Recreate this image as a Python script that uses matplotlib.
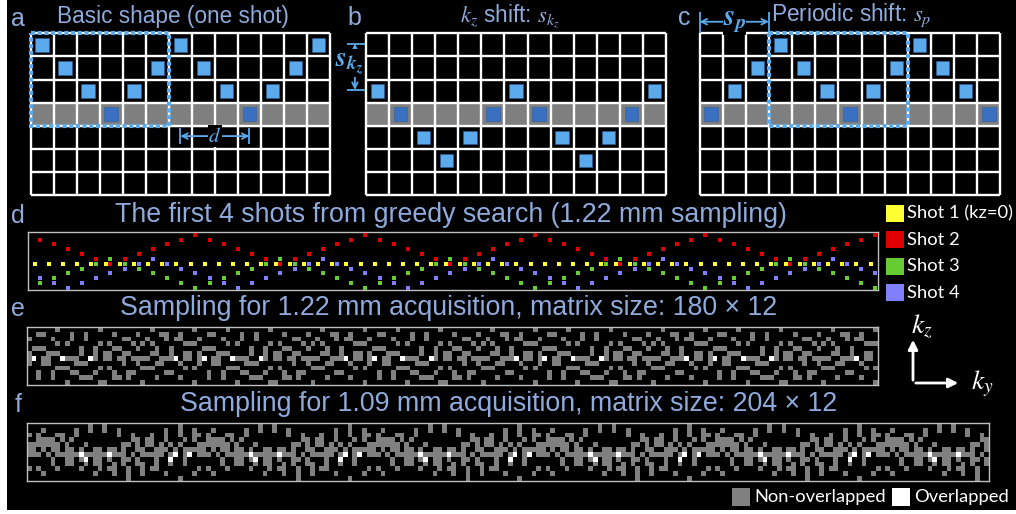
import numpy as np
import matplotlib.pyplot as plt
from matplotlib.patches import Rectangle, FancyArrowPatch
from matplotlib.colors import ListedColormap

plt.rcParams['mathtext.fontset'] = 'stix'

W, H = 1016, 514
title_col = '#8FAADC'
light_blue = '#5BAAEB'
dark_blue = '#3A70C2'
gray = '#7F7F7F'

# kz row of the sample in each ky column (7 x 13 grid)
shape_a = [0, 1, 2, 3, 2, 1, 0, 1, 2, 3, 2, 1, 0]
shape_b = [2, 3, 4, 5, 4, 3, 2, 3, 4, 5, 4, 3, 2]
shape_c = [3, 2, 1, 0, 1, 2, 3, 2, 1, 0, 1, 2, 3]
center_row = 3

# first four shots of the greedy search (1.22 mm, 180 ky lines, every 3rd line)
shot1_rows = [6] * 60
shot2_rows = [1, 2, 3, 4, 5, 6, 5, 4, 3, 2, 1, 0,
              1, 2, 3, 4, 5, 6, 5, 4, 3, 2, 1, 0,
              1, 2, 3, 4, 5, 6, 5, 4, 3, 2, 1, 0,
              1, 2, 3, 4, 5, 6, 5, 4, 3, 2, 1, 0,
              1, 2, 3, 4, 5, 6, 5, 4, 3, 2, 1, 0]
shot3_rows = [10, 9, 8, 7, 6, 5, 6, 7, 8, 9, 10, 11,
              10, 9, 8, 7, 6, 5, 6, 7, 8, 9, 10, 11,
              10, 9, 8, 7, 6, 5, 6, 7, 8, 9, 10, 11,
              10, 9, 8, 7, 6, 5, 6, 7, 8, 9, 10, 11,
              10, 9, 8, 7, 6, 5, 6, 7, 8, 9, 10, 11]
shot4_rows = [9, 10, 11, 10, 9, 8, 7, 6, 5, 6, 7, 8,
              9, 10, 11, 10, 9, 8, 7, 6, 5, 6, 7, 8,
              9, 10, 11, 10, 9, 8, 7, 6, 5, 6, 7, 8,
              9, 10, 11, 10, 9, 8, 7, 6, 5, 6, 7, 8,
              9, 10, 11, 10, 9, 8, 7, 6, 5, 6, 7, 8]
shot_offsets = [1, 2, 2, 2]
shot_names = ['Shot 1 (kz=0)', 'Shot 2', 'Shot 3', 'Shot 4']
shot_colors = ['#FFFF33', '#E00000', '#66CC33', '#8080FF']

# zig-zag of one shot over one period (12 samples), kz row before shifting
zigzag = [1, 2, 3, 4, 5, 6, 5, 4, 3, 2, 1, 0]
kz0_row = 6

# shots of the full masks: (ky offset, kz shift, periodic shift)
shots_122 = [(2, 0, 0), (2, 5, 6), (2, 5, 3), (2, 0, 3),
             (1, 5, 0), (1, 1, 2),
             (0, 0, 6), (0, 5, 0), (0, 5, 9), (0, 0, 9)]
shots_109 = [(2, 0, 1), (2, 1, 1), (2, 2, 1), (2, 4, 1), (2, 5, 7),
             (1, 0, 7), (1, 0, 6),
             (0, 4, 10), (0, 4, 4), (0, 1, 10), (0, 3, 10), (0, 5, 10)]


def fx(x):
    return x / W


def fy(y):
    return 1 - y / H


def add_ax(x0, x1, y0, y1):
    return fig.add_axes([fx(x0), fy(y1), (x1 - x0) / W, (y1 - y0) / H])


def label(x, y, s, size, color=title_col, family='Liberation Sans', **kw):
    fig.text(fx(x), fy(y), s, color=color, fontsize=size, family=family,
             ha=kw.pop('ha', 'center'), va=kw.pop('va', 'center'), **kw)


def grid_panel(ax, rows):
    ax.set_xlim(0, 13)
    ax.set_ylim(7, 0)
    ax.axis('off')
    ax.axhspan(center_row, center_row + 1, color=gray, zorder=1)
    ax.vlines(range(14), 0, 7, color='white', lw=1.7, zorder=2, clip_on=False)
    ax.hlines(range(8), 0, 13, color='white', lw=1.7, zorder=2, clip_on=False)
    for col, row in enumerate(rows):
        c = dark_blue if row == center_row else light_blue
        ax.add_patch(Rectangle((col + 0.21, row + 0.21), 0.58, 0.58, fc=c,
                               ec='#2E5E9E', lw=0.4, zorder=3))


def sampling_mask(n_ky, shots):
    counts = np.zeros((12, n_ky), int)
    ky = np.arange(0, n_ky, 3)
    counts[kz0_row, ky + 1] += 1
    for off, s_kz, s_p in shots:
        k = np.arange(len(ky))
        rows = s_kz + np.array(zigzag)[(k + s_p) % 12]
        counts[rows, ky + off] += 1
    return np.minimum(counts, 2)


fig = plt.figure(figsize=(W / 100, H / 100), dpi=100, facecolor='white')
fig.add_artist(Rectangle((fx(7), fy(510)), 1, 510 / H, transform=fig.transFigure,
                         fc='black', ec='none', zorder=-10))

# a: basic shape
ax_a = add_ax(30.5, 330, 33.3, 195)
grid_panel(ax_a, shape_a)
ax_a.add_patch(Rectangle((0, 0), 6, 4, fill=False, ec=light_blue, lw=3,
                         ls=(0, (1.0, 0.6)), zorder=4, clip_on=False))
ax_a.annotate('', xy=(6.5, 4.45), xytext=(9.5, 4.45),
              arrowprops=dict(arrowstyle='<->', color=light_blue, lw=1.3,
                              shrinkA=0, shrinkB=0), zorder=5)
ax_a.vlines([6.5, 9.5], 4.1, 4.8, color=light_blue, lw=1.3, zorder=5)
ax_a.text(8, 4.45, r'$d$', color=light_blue, fontsize=15, ha='center', va='center',
          bbox=dict(fc='black', ec='none', pad=0.5), zorder=6)

# b: kz shift
ax_b = add_ax(366, 666, 33.3, 195)
grid_panel(ax_b, shape_b)
ax_b.hlines([0.45, 2.45], -0.82, -0.04, color=light_blue, lw=1.3, clip_on=False)
ax_b.annotate('', xy=(-0.48, 0.45), xytext=(-0.48, 2.45),
              arrowprops=dict(arrowstyle='<->', color=light_blue, lw=1.3,
                              shrinkA=0, shrinkB=0), annotation_clip=False)
ax_b.text(-0.72, 1.3, r'$\mathbfit{s}_{\mathbfit{k}_{\mathbfit{z}}}$', color=light_blue,
          fontsize=20, ha='center', va='center',
          bbox=dict(fc='black', ec='none', pad=0), clip_on=False)

# c: periodic shift
ax_c = add_ax(699.5, 1000.5, 33.3, 195)
grid_panel(ax_c, shape_c)
ax_c.add_patch(Rectangle((3, 0), 6, 4, fill=False, ec=light_blue, lw=3,
                         ls=(0, (1.0, 0.6)), zorder=4, clip_on=False))
ax_c.vlines([0, 3], -0.92, 0, color=light_blue, lw=1.3, clip_on=False)
ax_c.annotate('', xy=(0, -0.5), xytext=(3, -0.5),
              arrowprops=dict(arrowstyle='<->', color=light_blue, lw=1.3,
                              shrinkA=0, shrinkB=0), annotation_clip=False)
ax_c.text(1.5, -0.55, r'$\mathbfit{s}_{\mathbfit{p}}$', color=light_blue, fontsize=21,
          ha='center', va='center', bbox=dict(fc='black', ec='none', pad=0), clip_on=False)

label(57, 16, 'Basic shape (one shot)', 16.3, ha='left')
label(460, 16, r'$k_z$ shift: $s_{k_z}$', 16.3, ha='left')
label(771, 15, r'Periodic shift: $s_p$', 16.3, ha='left')
for x, y, s in [(18, 19, 'a'), (354, 18, 'b'), (684, 18, 'c'),
                (18, 216, 'd'), (18, 309, 'e'), (18, 405, 'f')]:
    label(x, y, s, 18)

# d: first four shots
ax_d = add_ax(27.7, 877.7, 232.3, 290.3)
ax_d.set_facecolor('black')
ax_d.set_xlim(0, 180)
ax_d.set_ylim(12, 0)
ax_d.set_xticks([])
ax_d.set_yticks([])
for sp in ax_d.spines.values():
    sp.set_color('#BFBFBF')
    sp.set_linewidth(1)
all_shots = [shot1_rows, shot2_rows, shot3_rows, shot4_rows]
for rows, off, col in zip(all_shots, shot_offsets, shot_colors):
    ky = np.arange(len(rows)) * 3 + off
    ax_d.scatter(ky + 0.5, np.array(rows) + 0.5, marker='s', s=9.5, c=col,
                 linewidths=0, zorder=3)
label(115, 215, 'The first 4 shots from greedy search (1.22 mm sampling)', 19.3, ha='left')

for i, (name, col) in enumerate(zip(shot_names, shot_colors)):
    yc = 213 + i * 26.6
    fig.add_artist(Rectangle((fx(886), fy(yc + 8.5)), 18 / W, 17 / H,
                             transform=fig.transFigure, fc=col, ec='none'))
    label(907, yc, name, 13.2, color='white', family='Lato', ha='left')

# e / f: sampling masks (0 empty, 1 sampled once, 2 sampled more than once)
mask_cmap = ListedColormap(['black', '#808080', 'white'])
mask_e = sampling_mask(180, shots_122)
mask_f = sampling_mask(204, shots_109)

for (x0, x1, y0, y1), mask, title, tx in [
        ((27.3, 877.7, 327.3, 385), mask_e,
         'Sampling for 1.22 mm acquisition, matrix size: 180 \u00d7 12', 120),
        ((27.3, 989, 423.3, 480.7), mask_f,
         'Sampling for 1.09 mm acquisition, matrix size: 204 \u00d7 12', 180)]:
    ax = add_ax(x0, x1, y0, y1)
    ax.imshow(mask, cmap=mask_cmap, vmin=0, vmax=2, interpolation='nearest',
              aspect='auto', extent=(0, mask.shape[1], 12, 0))
    ax.set_xticks([])
    ax.set_yticks([])
    for sp in ax.spines.values():
        sp.set_color('#BFBFBF')
        sp.set_linewidth(1)
    label(tx, y0 - 19, title, 19.3, ha='left')

# bottom legend
for x, col, name in [(732, '#808080', 'Non-overlapped'), (892, 'white', 'Overlapped')]:
    fig.add_artist(Rectangle((fx(x), fy(506)), 18 / W, 18 / H,
                             transform=fig.transFigure, fc=col, ec='none'))
    label(x + 22, 497, name, 13.2, color='white', family='Lato', ha='left')

# ky / kz direction icon
for end in [(913, 337), (961, 383)]:
    fig.add_artist(FancyArrowPatch((fx(913), fy(383)), (fx(end[0]), fy(end[1])),
                                   transform=fig.transFigure, arrowstyle='-|>',
                                   mutation_scale=14, color='white', lw=2))
label(922, 326, r'$k_z$', 20, color='white')
label(982, 384, r'$k_y$', 20, color='white')

fig.savefig('out.png', dpi=100, facecolor='white')
